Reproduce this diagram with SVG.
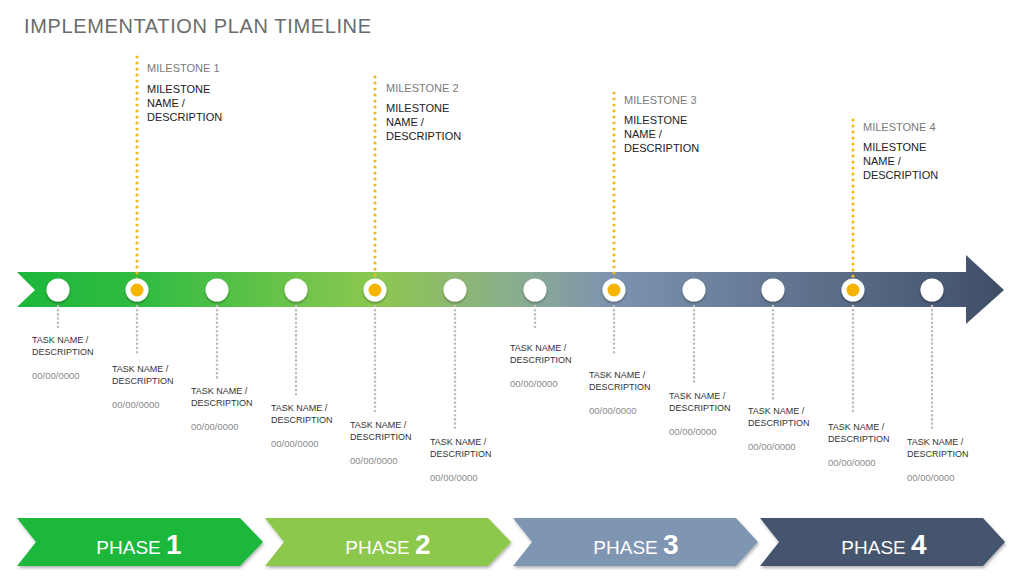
<svg xmlns="http://www.w3.org/2000/svg" width="1024" height="576" viewBox="0 0 1024 576">
<defs>
<linearGradient id="band" gradientUnits="userSpaceOnUse" x1="17" y1="0" x2="1004" y2="0">
<stop offset="0" stop-color="#1BB73A"/>
<stop offset="0.135" stop-color="#34BC42"/>
<stop offset="0.363" stop-color="#8CC850"/>
<stop offset="0.444" stop-color="#8EB872"/>
<stop offset="0.525" stop-color="#88A896"/>
<stop offset="0.605" stop-color="#7C93AF"/>
<stop offset="0.95" stop-color="#485872"/>
<stop offset="1" stop-color="#3F4D66"/>
</linearGradient>
<filter id="sh" x="-20%" y="-20%" width="140%" height="160%">
<feDropShadow dx="1" dy="2" stdDeviation="1.5" flood-color="#000" flood-opacity="0.3"/>
</filter>
<filter id="csh" x="-50%" y="-50%" width="200%" height="200%">
<feDropShadow dx="0" dy="1.5" stdDeviation="1.2" flood-color="#000" flood-opacity="0.35"/>
</filter>
</defs>
<style>
.title{font-family:"Liberation Sans",Arial,sans-serif;font-size:20px;fill:#6b6b6b}
.mh{font-family:"Liberation Sans",Arial,sans-serif;font-size:11px;fill:#7a7a7a}
.mn{font-family:"Liberation Sans",Arial,sans-serif;font-size:11px;fill:#222}
.tn{font-family:"Liberation Sans",Arial,sans-serif;font-size:9px;fill:#333}
.td{font-family:"Liberation Sans",Arial,sans-serif;font-size:9.5px;fill:#8a8a8a}
.ml{stroke:#EDBB1E;stroke-width:3.2;stroke-linecap:round;stroke-dasharray:0 6;fill:none}
.tl{stroke:#BDBDBD;stroke-width:2.6;stroke-linecap:round;stroke-dasharray:0 4.2;fill:none}
.node{fill:#fff;filter:url(#csh)}
.gold{fill:#F5B400}
.ph{font-family:"Liberation Sans",Arial,sans-serif;font-size:19px;fill:#fff}
.pn{font-family:"Liberation Sans",Arial,sans-serif;font-size:28px;font-weight:bold;fill:#fff}
</style>
<rect width="1024" height="576" fill="#fff"/>
<text class="title" x="24" y="33" textLength="347">IMPLEMENTATION PLAN TIMELINE</text>

<g id="timeline-band">
<path d="M17,272 L966,272 L966,255 L1004,290 L966,324 L966,307 L17,307 L35,290 Z" fill="url(#band)"/>
</g>

<g id="connectors">
<line class="ml" x1="137" y1="57" x2="137" y2="284"/>
<line class="ml" x1="375" y1="77" x2="375" y2="284"/>
<line class="ml" x1="614" y1="93" x2="614" y2="284"/>
<line class="ml" x1="853" y1="120" x2="853" y2="284"/>
<line class="tl" x1="58" y1="306" x2="58" y2="330"/>
<line class="tl" x1="137" y1="306" x2="137" y2="355"/>
<line class="tl" x1="217" y1="306" x2="217" y2="378"/>
<line class="tl" x1="296" y1="306" x2="296" y2="395"/>
<line class="tl" x1="375" y1="306" x2="375" y2="412"/>
<line class="tl" x1="455" y1="306" x2="455" y2="428"/>
<line class="tl" x1="535" y1="306" x2="535" y2="330"/>
<line class="tl" x1="614" y1="306" x2="614" y2="355"/>
<line class="tl" x1="694" y1="306" x2="694" y2="385"/>
<line class="tl" x1="773" y1="306" x2="773" y2="400"/>
<line class="tl" x1="853" y1="306" x2="853" y2="415"/>
<line class="tl" x1="932" y1="306" x2="932" y2="428"/>
</g>

<g id="nodes">
<circle class="node" cx="58" cy="290" r="11.5"/>
<g id="m1-node"><circle class="node" cx="137" cy="290" r="11.5"/><circle class="gold" cx="137" cy="290" r="6.5"/></g>
<circle class="node" cx="217" cy="290" r="11.5"/>
<circle class="node" cx="296" cy="290" r="11.5"/>
<g id="m2-node"><circle class="node" cx="375" cy="290" r="11.5"/><circle class="gold" cx="375" cy="290" r="6.5"/></g>
<circle class="node" cx="455" cy="290" r="11.5"/>
<circle class="node" cx="535" cy="290" r="11.5"/>
<g id="m3-node"><circle class="node" cx="614" cy="290" r="11.5"/><circle class="gold" cx="614" cy="290" r="6.5"/></g>
<circle class="node" cx="694" cy="290" r="11.5"/>
<circle class="node" cx="773" cy="290" r="11.5"/>
<g id="m4-node"><circle class="node" cx="853" cy="290" r="11.5"/><circle class="gold" cx="853" cy="290" r="6.5"/></g>
<circle class="node" cx="932" cy="290" r="11.5"/>
</g>

<g id="milestone-1">
<text class="mh" x="147" y="72">MILESTONE 1</text>
<text class="mn" x="147" y="93">MILESTONE</text>
<text class="mn" x="147" y="107">NAME /</text>
<text class="mn" x="147" y="121">DESCRIPTION</text>
</g>
<g id="milestone-2">
<text class="mh" x="386" y="92">MILESTONE 2</text>
<text class="mn" x="386" y="112">MILESTONE</text>
<text class="mn" x="386" y="126">NAME /</text>
<text class="mn" x="386" y="140">DESCRIPTION</text>
</g>
<g id="milestone-3">
<text class="mh" x="624" y="104">MILESTONE 3</text>
<text class="mn" x="624" y="124">MILESTONE</text>
<text class="mn" x="624" y="138">NAME /</text>
<text class="mn" x="624" y="152">DESCRIPTION</text>
</g>
<g id="milestone-4">
<text class="mh" x="863" y="131">MILESTONE 4</text>
<text class="mn" x="863" y="151">MILESTONE</text>
<text class="mn" x="863" y="165">NAME /</text>
<text class="mn" x="863" y="179">DESCRIPTION</text>
</g>

<g id="task-1"><text class="tn" x="32" y="343">TASK NAME /</text><text class="tn" x="32" y="355">DESCRIPTION</text><text class="td" x="32" y="379">00/00/0000</text></g>
<g id="task-2"><text class="tn" x="112" y="372">TASK NAME /</text><text class="tn" x="112" y="384">DESCRIPTION</text><text class="td" x="112" y="408">00/00/0000</text></g>
<g id="task-3"><text class="tn" x="191" y="394">TASK NAME /</text><text class="tn" x="191" y="406">DESCRIPTION</text><text class="td" x="191" y="430">00/00/0000</text></g>
<g id="task-4"><text class="tn" x="271" y="411">TASK NAME /</text><text class="tn" x="271" y="423">DESCRIPTION</text><text class="td" x="271" y="447">00/00/0000</text></g>
<g id="task-5"><text class="tn" x="350" y="428">TASK NAME /</text><text class="tn" x="350" y="440">DESCRIPTION</text><text class="td" x="350" y="464">00/00/0000</text></g>
<g id="task-6"><text class="tn" x="430" y="445">TASK NAME /</text><text class="tn" x="430" y="457">DESCRIPTION</text><text class="td" x="430" y="481">00/00/0000</text></g>
<g id="task-7"><text class="tn" x="510" y="351">TASK NAME /</text><text class="tn" x="510" y="363">DESCRIPTION</text><text class="td" x="510" y="387">00/00/0000</text></g>
<g id="task-8"><text class="tn" x="589" y="378">TASK NAME /</text><text class="tn" x="589" y="390">DESCRIPTION</text><text class="td" x="589" y="414">00/00/0000</text></g>
<g id="task-9"><text class="tn" x="669" y="399">TASK NAME /</text><text class="tn" x="669" y="411">DESCRIPTION</text><text class="td" x="669" y="435">00/00/0000</text></g>
<g id="task-10"><text class="tn" x="748" y="414">TASK NAME /</text><text class="tn" x="748" y="426">DESCRIPTION</text><text class="td" x="748" y="450">00/00/0000</text></g>
<g id="task-11"><text class="tn" x="828" y="430">TASK NAME /</text><text class="tn" x="828" y="442">DESCRIPTION</text><text class="td" x="828" y="466">00/00/0000</text></g>
<g id="task-12"><text class="tn" x="907" y="445">TASK NAME /</text><text class="tn" x="907" y="457">DESCRIPTION</text><text class="td" x="907" y="481">00/00/0000</text></g>

<g id="phase-1">
<path d="M17,518 L240,518 L263,542 L240,566 L17,566 L36,542 Z" fill="#1DB83B" filter="url(#sh)"/>
<text x="139" y="554" text-anchor="middle"><tspan class="ph">PHASE </tspan><tspan class="pn">1</tspan></text>
</g>
<g id="phase-2">
<path d="M265,518 L488,518 L511,542 L488,566 L265,566 L284,542 Z" fill="#8CC84B" filter="url(#sh)"/>
<text x="388" y="554" text-anchor="middle"><tspan class="ph">PHASE </tspan><tspan class="pn">2</tspan></text>
</g>
<g id="phase-3">
<path d="M513,518 L736,518 L758,542 L736,566 L513,566 L532,542 Z" fill="#7F96B3" filter="url(#sh)"/>
<text x="636" y="554" text-anchor="middle"><tspan class="ph">PHASE </tspan><tspan class="pn">3</tspan></text>
</g>
<g id="phase-4">
<path d="M760,518 L983,518 L1005,542 L983,566 L760,566 L779,542 Z" fill="#44546E" filter="url(#sh)"/>
<text x="884" y="554" text-anchor="middle"><tspan class="ph">PHASE </tspan><tspan class="pn">4</tspan></text>
</g>
</svg>
